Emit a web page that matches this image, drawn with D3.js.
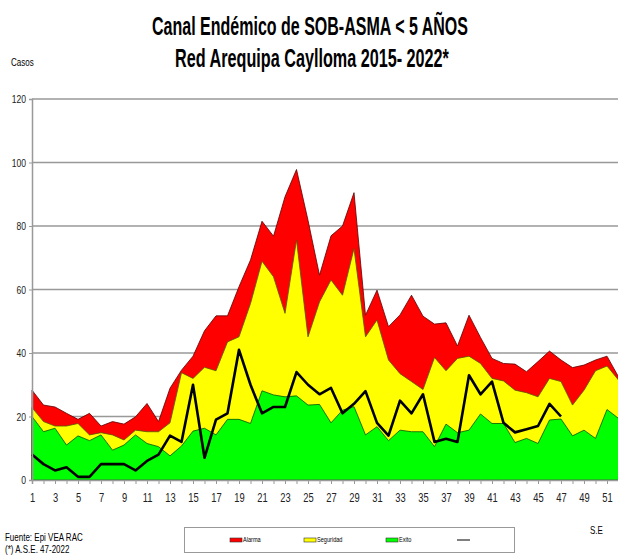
<!DOCTYPE html>
<html>
<head>
<meta charset="utf-8">
<script src="https://cdn.jsdelivr.net/npm/d3@7"></script>
<style>
  body { margin: 0; background: #fff; }
  svg { display: block; }
  text { font-family: "Liberation Sans", Arial, sans-serif; }
</style>
</head>
<body>
<svg id="chart" width="618" height="556"></svg>
<script>
// semanas epidemiologicas
var weeks = d3.range(1, 53);

// limites del canal endemico
var alarma = [28.3, 23.6, 23, 21, 19.1, 21, 17, 18.4, 17.6, 19.9, 24.1, 18.4, 28.9, 34.6, 39, 47, 51.7, 51.7, 60.9, 69.3,
  81.5, 76.8, 89.2, 97.8, 81.8, 64.5, 76.9, 80, 90.5, 51.9, 59.8, 48.3, 52, 58.2, 51.6, 49.1, 49.5, 42.2, 51.9, 44.9,
  38.3, 36.7, 36.5, 34.1, 37.3, 40.6, 37.8, 35.4, 36.2, 37.8, 39, 32.5];
var seguridad = [22.8, 18.4, 17, 17, 17.8, 14.2, 14.9, 14.2, 12.6, 15.7, 15.2, 15.2, 18, 33.8, 32, 35.5, 34.4, 43.5, 45.1, 55.6,
  68.9, 64, 52.5, 75.6, 45.1, 56.1, 63, 58.2, 72.9, 45.1, 50.4, 37.8, 33.5, 31, 28.5, 38.6, 34.4, 38.3, 39, 36.7,
  32, 31.2, 28.3, 27.5, 26.2, 32, 31, 23.6, 28.3, 34.4, 35.9, 31.5];
var exito = [20, 15.2, 16.3, 11, 13.9, 12.4, 14.2, 9.4, 11, 14.2, 11.5, 10.5, 7.6, 10.7, 15.4, 16.3, 14.2, 19.1, 19.1, 17.8,
  28.1, 26.8, 26.2, 26.5, 23.6, 23.8, 18, 22, 23.1, 14.2, 16.8, 12.4, 15.7, 15.2, 15.2, 10.5, 17.6, 14.9, 15.7, 20.8,
  17.8, 17.8, 11.8, 13.1, 11.5, 18.9, 19.2, 13.9, 15.7, 13.1, 22.2, 19.4];
// casos 2022 hasta la SE 47
var casos = [8, 5, 3, 4, 1, 1, 5, 5, 5, 3, 6, 8, 14, 12, 30, 7, 19, 21, 41, 30,
  21, 23, 23, 34, 30, 27, 29, 21, 24, 28, 18, 14, 25, 21, 27, 12, 13, 12, 33, 27,
  31, 18, 15, 16, 17, 24, 20];
var yTicks = [0, 20, 40, 60, 80, 100, 120];

var svg = d3.select('#chart');
var x = d3.scaleLinear().domain([1, 52]).range([32, 618.5]);
var y = d3.scaleLinear().domain([0, 120]).range([480, 99]);

// no hay fuente narrow instalada -> se comprime en x
var narrowText = function(sel, k) {
  sel.each(function() {
    var t = d3.select(this);
    var tx = +t.attr('x') || 0, ty = +t.attr('y') || 0;
    t.attr('transform', 'translate(' + tx + ',' + ty + ') scale(' + k + ',1) translate(' + (-tx) + ',' + (-ty) + ')');
  });
};
// comprime hasta un ancho dado
var fitText = function(sel, w) {
  var len = sel.node().getComputedTextLength();
  narrowText(sel, Math.min(1, w / len));
};

// gridlines
svg.append('g').selectAll('line').data(yTicks.slice(1)).enter().append('line')
  .attr('x1', 32).attr('x2', 618)
  .attr('y1', function(d) { return y(d); }).attr('y2', function(d) { return y(d); })
  .attr('stroke', '#999').attr('stroke-width', 1.5);

var makeArea = function(vals) {
  return d3.area()
    .x(function(d, i) { return x(weeks[i]); })
    .y0(y(0))
    .y1(function(d) { return y(d); })(vals);
};

var bands = [
  { vals: alarma, fill: '#ff0000', stroke: '#5a0000' },
  { vals: seguridad, fill: '#ffff00', stroke: '#555500' },
  { vals: exito, fill: '#00ff00', stroke: '#005500' }
];
svg.append('g').selectAll('path').data(bands).enter().append('path')
  .attr('d', function(b) { return makeArea(b.vals); })
  .attr('fill', function(b) { return b.fill; })
  .attr('stroke', function(b) { return b.stroke; })
  .attr('stroke-width', 0.8);

// linea de casos
svg.append('path')
  .attr('d', d3.line()
    .x(function(d, i) { return x(weeks[i]); })
    .y(function(d) { return y(d); })(casos))
  .attr('fill', 'none').attr('stroke', '#000').attr('stroke-width', 2.6)
  .attr('stroke-linejoin', 'round');

// ejes
var yAxis = svg.append('g').attr('transform', 'translate(32,0)')
  .call(d3.axisLeft(y).tickValues(yTicks).tickSize(3).tickPadding(3));
var xAxis = svg.append('g').attr('transform', 'translate(0,480)')
  .call(d3.axisBottom(x).tickValues(weeks).tickSize(4).tickPadding(9)
    .tickFormat(function(d) { return d % 2 ? d : ''; }));
[yAxis, xAxis].forEach(function(ax) {
  ax.attr('font-family', null);
  ax.select('.domain').attr('stroke', '#999').attr('stroke-width', 1.5);
  ax.selectAll('.tick line').attr('stroke', '#999');
  ax.selectAll('.tick text').attr('fill', '#222').style('font-size', '12px');
  narrowText(ax.selectAll('.tick text'), 0.78);
});
yAxis.selectAll('.tick text').style('font-size', '11px');

// titulos
fitText(svg.append('text').attr('x', 310).attr('y', 35)
  .attr('text-anchor', 'middle').style('font-size', '25px').style('font-weight', 'bold')
  .text('Canal Endémico de SOB-ASMA < 5 AÑOS'), 316);
fitText(svg.append('text').attr('x', 312).attr('y', 67)
  .attr('text-anchor', 'middle').style('font-size', '25px').style('font-weight', 'bold')
  .text('Red Arequipa Caylloma 2015- 2022*'), 274);
narrowText(svg.append('text').attr('x', 11).attr('y', 66)
  .style('font-size', '10px').text('Casos'), 0.8);

// pie
narrowText(svg.append('text').attr('x', 5).attr('y', 541)
  .style('font-size', '10px').text('Fuente: Epi VEA RAC'), 0.8);
narrowText(svg.append('text').attr('x', 5).attr('y', 553)
  .style('font-size', '10px').text('(*) A.S.E. 47-2022'), 0.8);
narrowText(svg.append('text').attr('x', 590).attr('y', 534)
  .style('font-size', '10px').text('S.E'), 0.8);

// leyenda
var legend = svg.append('g');
legend.append('rect').attr('x', 184.5).attr('y', 527.5).attr('width', 330).attr('height', 25)
  .attr('fill', '#fff').attr('stroke', '#999');
var legItems = [
  { label: 'Alarma', fill: '#ff0000', x: 230 },
  { label: 'Seguridad', fill: '#ffff00', x: 304 },
  { label: 'Exito', fill: '#00ff00', x: 386 }
];
legItems.forEach(function(it) {
  legend.append('rect').attr('x', it.x).attr('y', 538).attr('width', 12).attr('height', 4)
    .attr('fill', it.fill).attr('stroke', '#333').attr('stroke-width', 0.6);
  narrowText(legend.append('text').attr('x', it.x + 13).attr('y', 542.5)
    .style('font-size', '7px').text(it.label), 0.8);
});
legend.append('line').attr('x1', 457).attr('x2', 470).attr('y1', 540).attr('y2', 540)
  .attr('stroke', '#555').attr('stroke-width', 1.5);
</script>
</body>
</html>
